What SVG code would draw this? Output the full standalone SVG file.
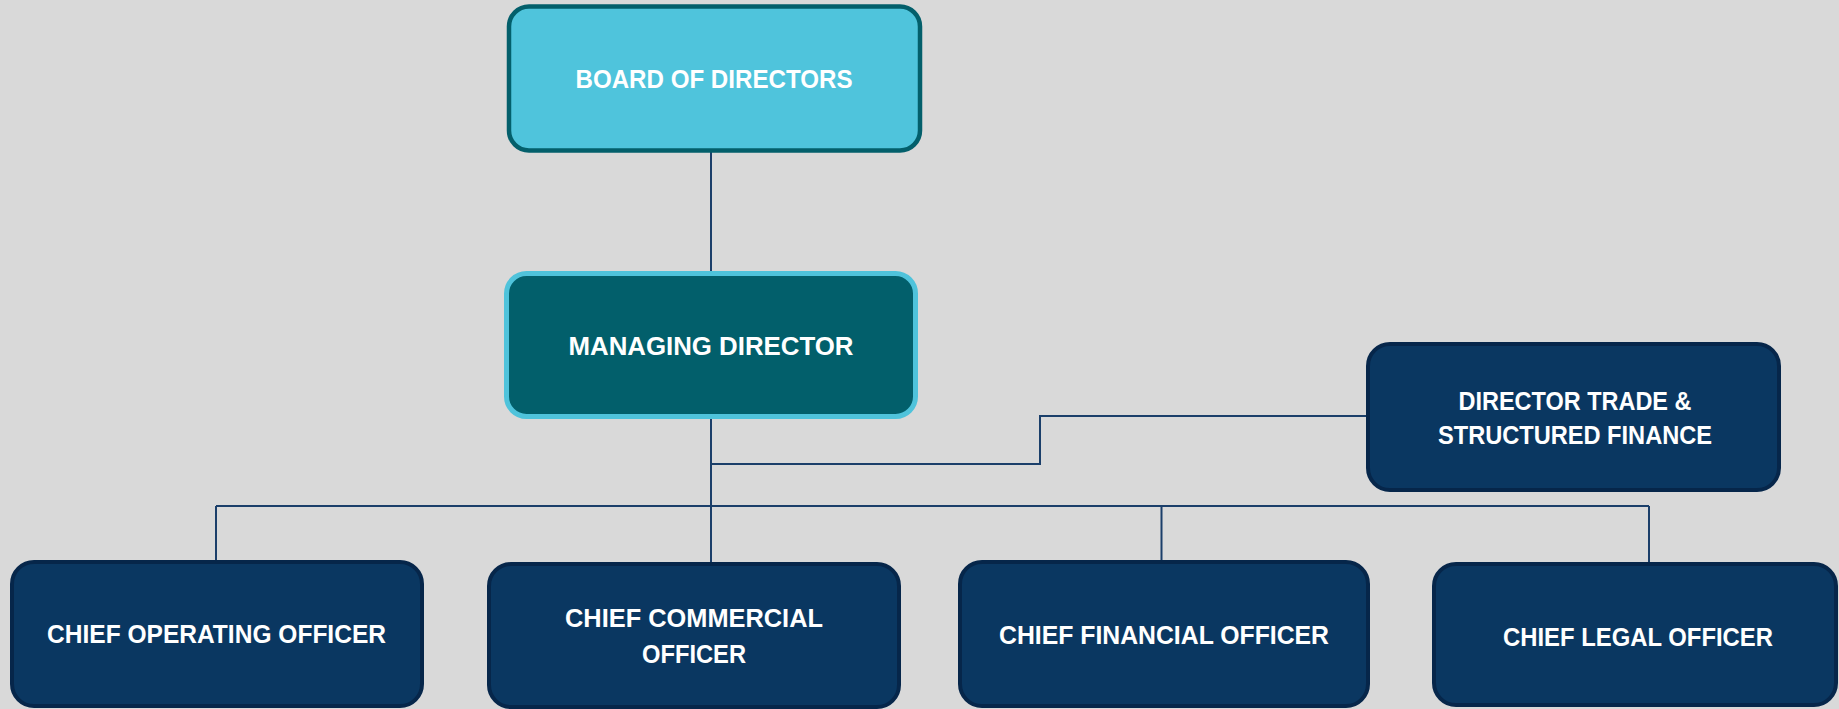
<svg xmlns="http://www.w3.org/2000/svg" width="1839" height="709" viewBox="0 0 1839 709">
<style>
.bg{fill:#D9D9D9}
.t{font-family:"Liberation Sans",Arial,sans-serif;font-weight:bold;font-size:25px;fill:#FFFFFF;text-anchor:middle}
.navy{fill:#0A3761;stroke:#06264A;stroke-width:4}
.conn{fill:none;stroke:#1B3F6A;stroke-width:2}
</style>
<rect class="bg" x="0" y="0" width="1839" height="709"/>
<g id="connectors">
<path class="conn" d="M711 152 V272"/>
<path class="conn" d="M711 419 V562"/>
<path class="conn" d="M1367 416 H1040 V464 H711"/>
<path class="conn" d="M216 506 H1649"/>
<path class="conn" d="M216 506 V561"/>
<path class="conn" d="M1161.5 506 V561"/>
<path class="conn" d="M1649 506 V563"/>
</g>
<g id="board">
<rect x="509" y="6.5" width="411" height="144" rx="20" fill="#4FC4DC" stroke="#035F6B" stroke-width="4.5"/>
<text class="t" x="714" y="88" textLength="277" lengthAdjust="spacingAndGlyphs">BOARD OF DIRECTORS</text>
</g>
<g id="md">
<rect x="506.5" y="273.5" width="409" height="143" rx="20" fill="#025F6B" stroke="#4FC3DB" stroke-width="5"/>
<text class="t" x="711" y="355" textLength="285" lengthAdjust="spacingAndGlyphs">MANAGING DIRECTOR</text>
</g>
<g id="dtsf">
<rect class="navy" x="1368" y="344" width="411" height="146" rx="22"/>
<text class="t" x="1575" y="410" textLength="233" lengthAdjust="spacingAndGlyphs">DIRECTOR TRADE &amp;</text>
<text class="t" x="1575" y="444" textLength="274" lengthAdjust="spacingAndGlyphs">STRUCTURED FINANCE</text>
</g>
<g id="coo">
<rect class="navy" x="12" y="562" width="410" height="144" rx="22"/>
<text class="t" x="216.5" y="643" textLength="339" lengthAdjust="spacingAndGlyphs">CHIEF OPERATING OFFICER</text>
</g>
<g id="cco">
<rect class="navy" x="489" y="564" width="410" height="143" rx="22"/>
<text class="t" x="694" y="627" textLength="258" lengthAdjust="spacingAndGlyphs">CHIEF COMMERCIAL</text>
<text class="t" x="694" y="663" textLength="104" lengthAdjust="spacingAndGlyphs">OFFICER</text>
</g>
<g id="cfo">
<rect class="navy" x="960" y="562" width="408" height="144" rx="22"/>
<text class="t" x="1164" y="644" textLength="330" lengthAdjust="spacingAndGlyphs">CHIEF FINANCIAL OFFICER</text>
</g>
<g id="clo">
<rect class="navy" x="1434" y="564" width="402" height="141" rx="22"/>
<text class="t" x="1638" y="646" textLength="270" lengthAdjust="spacingAndGlyphs">CHIEF LEGAL OFFICER</text>
</g>
</svg>
